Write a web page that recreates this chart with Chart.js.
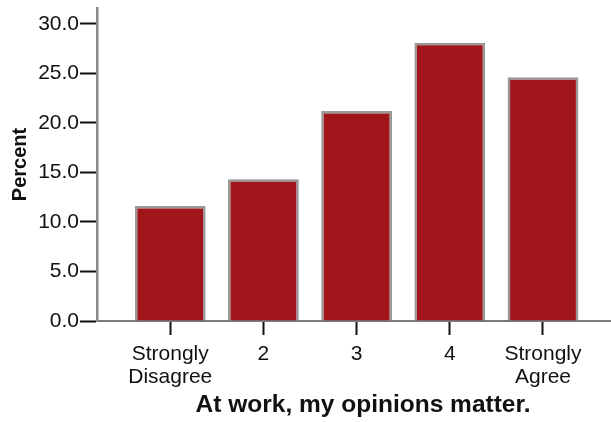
<!DOCTYPE html>
<html>
<head>
<meta charset="utf-8">
<script src="https://cdn.jsdelivr.net/npm/chart.js@4/dist/chart.umd.min.js"></script>
<style>
  html, body { margin: 0; padding: 0; background: #fff; overflow: hidden; }
  #wrap { width: 611px; height: 422px; overflow: hidden; position: relative; }
  canvas { display: block; }
</style>
</head>
<body>
<div id="wrap"><canvas id="c" width="629" height="422" style="width:629px;height:422px"></canvas></div>
<script>
// ---- data ----
const categories = [["Strongly", "Disagree"], "2", "3", "4", ["Strongly", "Agree"]];
const categoryPositions = [1, 2, 3, 4, 5];
const percentValues = [11.6, 14.3, 21.2, 28.1, 24.6];
const yTickValues = [0, 5, 10, 15, 20, 25, 30];
const xTitle = "At work, my opinions matter.";
const yTitle = "Percent";

const FONT = "'Liberation Sans', Arial, Helvetica, sans-serif";

const points = categoryPositions.map((x, i) => ({ x: x, y: percentValues[i] }));

new Chart(document.getElementById('c'), {
  type: 'bar',
  data: {
    datasets: [{
      data: points,
      backgroundColor: '#A0161B',
      borderColor: '#999999',
      borderWidth: 2.5,
      borderSkipped: 'start',
      categoryPercentage: 1.0,
      barPercentage: 0.76
    }]
  },
  options: {
    responsive: false,
    animation: false,
    devicePixelRatio: 1,
    layout: { padding: { top: 8, left: 0, right: 0, bottom: 0 } },
    plugins: { legend: { display: false }, tooltip: { enabled: false }, title: { display: false } },
    scales: {
      x: {
        type: 'linear',
        offset: false,
        min: 0.214,
        max: 5.923,
        afterBuildTicks: s => { s.ticks = categoryPositions.map(v => ({ value: v })); },
        afterFit: s => { s.height = 101; },
        grid: { offset: false, drawOnChartArea: false, drawTicks: true, tickLength: 14, tickWidth: 2, tickColor: '#111' },
        border: { display: true, color: '#7a7a7a', width: 2 },
        ticks: {
          autoSkip: false,
          maxRotation: 0,
          padding: 8,
          color: '#111',
          font: { family: FONT, size: 21, lineHeight: 1.1 },
          callback: v => {
            const i = categoryPositions.indexOf(v);
            return i >= 0 ? categories[i] : '';
          }
        },
        title: {
          display: true,
          text: xTitle,
          color: '#111',
          font: { family: FONT, size: 24.5, weight: 'bold', lineHeight: 1.2 },
          padding: { top: 0, bottom: 2 }
        }
      },
      y: {
        min: 0,
        max: 31.6,
        afterBuildTicks: s => { s.ticks = yTickValues.map(v => ({ value: v })); },
        afterFit: s => { s.width = 97; s.paddingTop = 0; s.paddingBottom = 0; },
        grid: { drawOnChartArea: false, drawTicks: true, tickLength: 17, tickWidth: 2, tickColor: '#111' },
        border: { display: true, color: '#8a8a8a', width: 2.5 },
        ticks: {
          padding: 1,
          color: '#111',
          font: { family: FONT, size: 21 },
          callback: v => Number(v).toFixed(1)
        },
        title: {
          display: true,
          text: yTitle,
          color: '#111',
          font: { family: FONT, size: 20, weight: 'bold', lineHeight: 1.2 },
          padding: { top: 8, bottom: 0 }
        }
      }
    }
  }
});
</script>
</body>
</html>
